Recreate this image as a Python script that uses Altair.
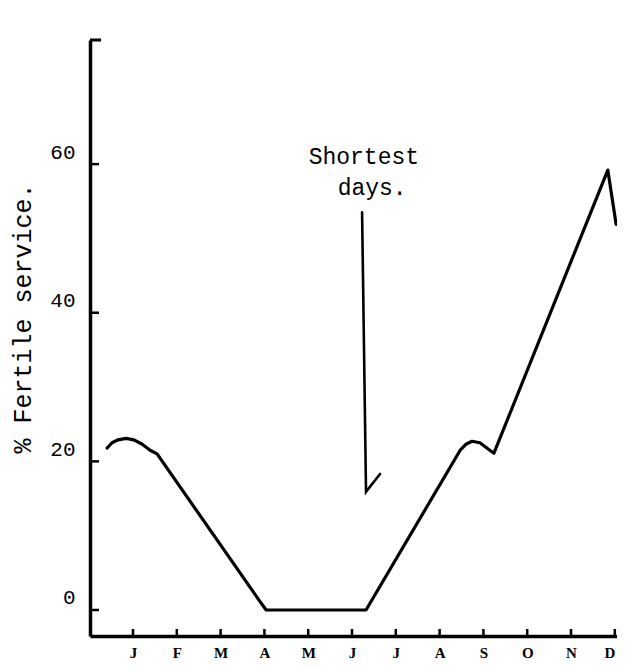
import altair as alt
import pandas as pd

# --- data ---
months = ["J", "F", "M", "A", "M", "J", "J", "A", "S", "O", "N", "D"]
month_pos = list(range(1, 13))

line_x = [0.41, 0.52, 0.66, 0.84, 1.02, 1.21, 1.39, 1.55, 3.88, 4.04, 6.32,
          8.47, 8.60, 8.74, 8.92, 9.10, 9.24, 11.84, 12.03]
line_y = [21.8, 22.5, 22.9, 23.1, 22.9, 22.3, 21.5, 21.0, 1.3, 0.0, 0.0,
          21.5, 22.3, 22.7, 22.5, 21.7, 21.1, 59.2, 51.9]

arrow_x = [6.23, 6.32, 6.64]
arrow_y = [53.5, 15.9, 18.3]

note_lines = ["Shortest", "days."]
note_x = [6.27, 6.46]
note_y = [61.0, 56.8]

y_ticks = [0, 20, 40, 60]

X_DOMAIN = [0.018, 12.05]
Y_DOMAIN = [-3.5, 76.7]
W, H = 527, 596

line_df = pd.DataFrame({"x": line_x, "y": line_y, "o": range(len(line_x))})
arrow_df = pd.DataFrame({"x": arrow_x, "y": arrow_y, "o": range(len(arrow_x))})
note_df = pd.DataFrame({"x": note_x, "y": note_y, "t": note_lines})
xt_df = pd.DataFrame({"x": month_pos})
yt_df = pd.DataFrame({"y": y_ticks})

label_expr = "[" + ",".join(f"'{m}'" for m in months) + "][datum.value - 1]"

xscale = alt.Scale(domain=X_DOMAIN, nice=False, zero=False)
yscale = alt.Scale(domain=Y_DOMAIN, nice=False, zero=False)

xaxis = alt.Axis(values=month_pos, labelExpr=label_expr, ticks=False, grid=False,
                 domainWidth=3.5, domainColor="black", labelFont="Liberation Serif",
                 labelFontWeight="bold", labelFontSize=15, labelColor="black",
                 labelPadding=9, labelFlush=6, title=None)
yaxis = alt.Axis(values=y_ticks, ticks=False, grid=False, domainWidth=3.5,
                 domainColor="black", labelFont="Liberation Mono", labelFontSize=21,
                 labelColor="black", labelPadding=15, labelOffset=-12,
                 title="% Fertile service.", titleFont="Liberation Mono",
                 titleFontSize=25, titleFontWeight="normal", titleColor="black",
                 titleX=-68, titleY=278, titleAngle=-90, titleAlign="center",
                 titleBaseline="middle")

base_line = alt.Chart(line_df).mark_line(color="black", strokeWidth=3.2,
                                          strokeJoin="round", strokeCap="round").encode(
    x=alt.X("x:Q", scale=xscale, axis=xaxis),
    y=alt.Y("y:Q", scale=yscale, axis=yaxis),
    order="o:Q",
)

arrow = alt.Chart(arrow_df).mark_line(color="black", strokeWidth=2.6,
                                       strokeJoin="miter", strokeCap="round").encode(
    x=alt.X("x:Q", scale=xscale),
    y=alt.Y("y:Q", scale=yscale),
    order="o:Q",
)

notes = alt.Chart(note_df).mark_text(font="Liberation Mono", fontSize=23,
                                      color="black", align="center",
                                      baseline="middle").encode(
    x=alt.X("x:Q", scale=xscale),
    y=alt.Y("y:Q", scale=yscale),
    text="t:N",
)

xticks = alt.Chart(xt_df).mark_rule(color="black", strokeWidth=2.5).encode(
    x=alt.X("x:Q", scale=xscale),
    y=alt.value(H),
    y2=alt.value(H - 7),
)

yticks = alt.Chart(yt_df).mark_rule(color="black", strokeWidth=2.5).encode(
    y=alt.Y("y:Q", scale=yscale),
    x=alt.value(0),
    x2=alt.value(9),
)

topcap = alt.Chart(yt_df.head(1)).mark_rule(color="black", strokeWidth=3).encode(
    y=alt.value(0), x=alt.value(0), x2=alt.value(11)
)

chart = alt.layer(base_line, arrow, notes, xticks, yticks, topcap).properties(
    width=W, height=H,
    background="white",
    autosize=alt.AutoSizeParams(type="none"),
    padding={"left": 82, "top": 32, "right": 0, "bottom": 24},
).configure_view(strokeWidth=0, stroke=None)

chart.save("out.html", embed_options={"renderer": "svg", "actions": False})
